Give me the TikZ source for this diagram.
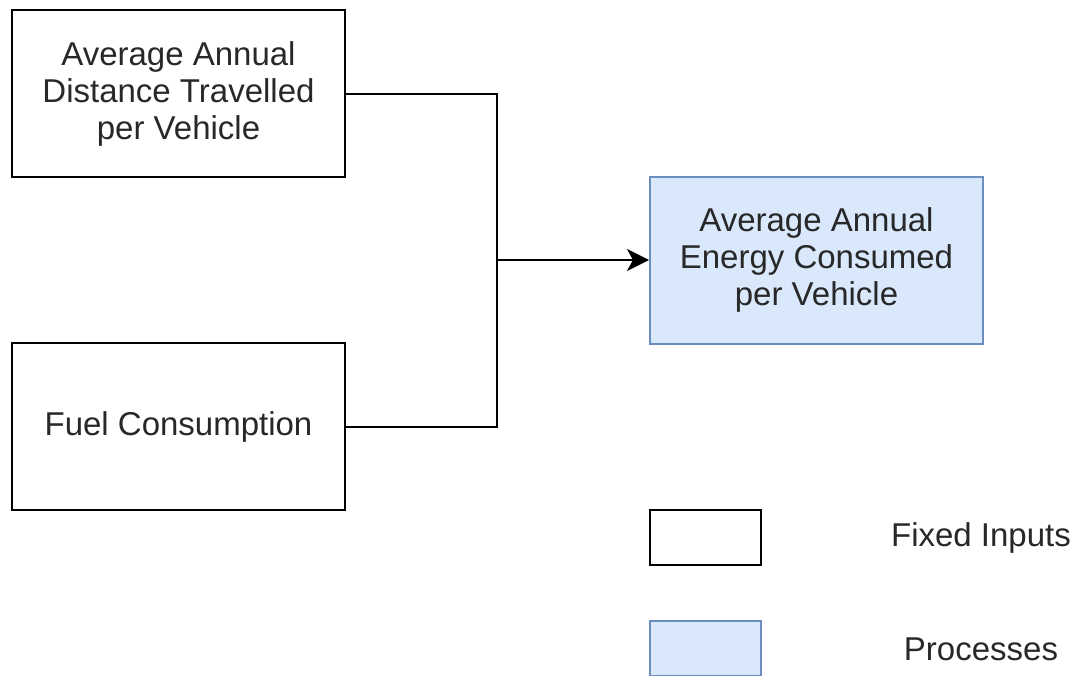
\documentclass[tikz,border=0pt]{standalone}
\usepackage{fontspec}
\setmainfont{Liberation Sans}
\usepackage{tikz}
\usetikzlibrary{arrows.meta,positioning,calc}
\definecolor{procfill}{RGB}{218,232,252}
\definecolor{procdraw}{RGB}{108,142,191}
\definecolor{textgray}{RGB}{40,40,40}
\tikzset{
  inputbox/.style={rectangle,draw=black,fill=white,line width=2pt,minimum width=333pt,minimum height=167pt,inner sep=0pt,align=center,text=textgray,font=\fontsize{33}{37}\selectfont},
  procbox/.style={inputbox,draw=procdraw,fill=procfill},
  keybox/.style={rectangle,line width=2pt,minimum width=111pt,minimum height=55pt,inner sep=0pt},
  link/.style={line width=2pt,draw=black},
  arr/.style={-{Stealth[length=22pt,width=22pt,inset=6pt]},line width=2pt,draw=black}
}
\begin{document}
\begin{tikzpicture}[
  x=1pt,y=-1pt,
  keytext/.style={font=\fontsize{33}{37}\selectfont,text=textgray}
]
\useasboundingbox (0,0) rectangle (1075,675);

\node[inputbox] (dist) at (178.5,93.5)
  {Average Annual\\ Distance Travelled\\ per Vehicle};
\node[inputbox] (fuel) at (178.5,426.5) {Fuel Consumption};
\node[procbox] (energy) at (816.5,260)
  {Average Annual\\ Energy Consumed\\ per Vehicle};

\coordinate (j) at (497,260);

\draw[link] (dist.east) -| (j);
\draw[link] (fuel.east) -| (j);
\draw[arr] (j) -- (energy.west);

% legend
\node[keybox,draw=black,fill=white] (keyfixed) at (705.5,537.5) {};
\node[keybox,draw=procdraw,fill=procfill] (keyproc) at (705.5,648.5) {};
\node[keytext] (keyfixedlab) at (981,538) {Fixed Inputs};
\node[keytext] (keyproclab) at (981,649) {Processes};

\end{tikzpicture}
\end{document}
